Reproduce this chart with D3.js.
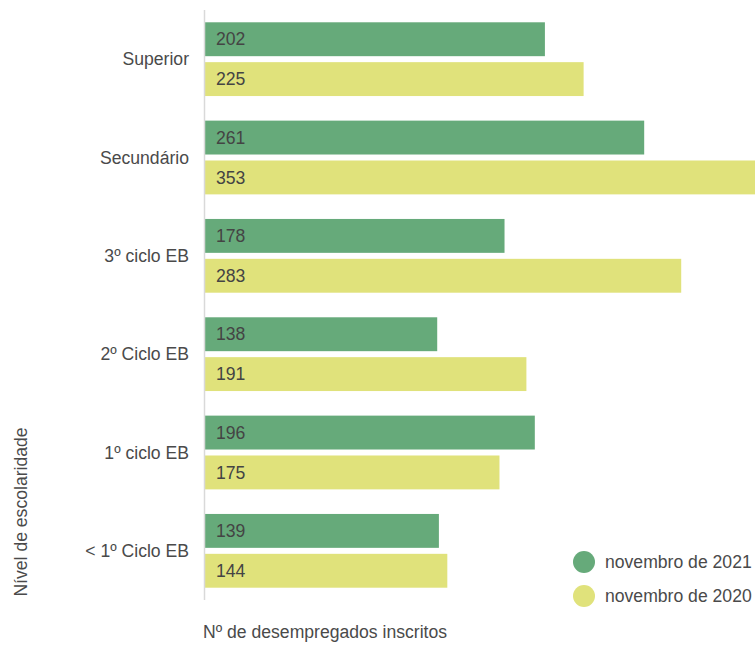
<!DOCTYPE html>
<html>
<head>
<meta charset="utf-8">
<script src="https://cdn.jsdelivr.net/npm/d3@7"></script>
<style>
  body { margin: 0; background: #fff; }
  text { font-family: "Liberation Sans", Arial, sans-serif; }
</style>
</head>
<body>
<div id="chart"></div>
<script>
var categories = ['Superior', 'Secundário', '3º ciclo EB', '2º Ciclo EB', '1º ciclo EB', '< 1º Ciclo EB'];
var seriesNames = ['novembro de 2021', 'novembro de 2020'];
var values2021 = [202, 261, 178, 138, 196, 139];
var values2020 = [225, 353, 283, 191, 175, 144];

var green = '#66aa7a',
    yellow = '#e0e27b';
var colors = [green, yellow];

var pic_width = 755,
    pic_height = 646,
    font_size = '17.6px';

var axis_x = 205; // left edge of the bars

var svg = d3.select('#chart').append('svg')
    .attr('width', pic_width)
    .attr('height', pic_height);

// outer band per category, inner band per series
var yScale = d3.scaleBand()
    .domain(categories)
    .range([10, 600])
    .paddingInner(0.25)
    .paddingOuter(0.125);

var ySub = d3.scaleBand()
    .domain(seriesNames)
    .range([0, yScale.bandwidth()])
    .paddingInner(0.15);

var xScale = d3.scaleLinear().domain([0, 353]).range([0, 594]);

var rows = categories.map(function(c, i) {
    return { cat: c, vals: [values2021[i], values2020[i]] };
});

var groups = svg.append('g').selectAll('g').data(rows)
    .enter().append('g')
    .attr('transform', function(d) { return 'translate(' + axis_x + ',' + yScale(d.cat) + ')'; });

groups.selectAll('rect').data(function(d) { return d.vals; })
    .enter().append('rect')
    .attr('x', 0)
    .attr('y', function(d, i) { return ySub(seriesNames[i]); })
    .attr('width', function(d) { return xScale(d); })
    .attr('height', ySub.bandwidth())
    .style('fill', function(d, i) { return colors[i]; });

groups.selectAll('text.val').data(function(d) { return d.vals; })
    .enter().append('text')
    .attr('class', 'val')
    .attr('x', 11)
    .attr('y', function(d, i) { return ySub(seriesNames[i]) + ySub.bandwidth() / 2; })
    .attr('dy', '0.35em')
    .style('font-size', font_size)
    .style('fill', '#444')
    .text(function(d) { return d; });

// vertical axis line
svg.append('line')
    .attr('x1', axis_x - 0.5).attr('x2', axis_x - 0.5)
    .attr('y1', 10).attr('y2', 600)
    .style('stroke', '#d9d9d9')
    .style('stroke-width', 1.5);

// category labels
svg.append('g').selectAll('text').data(categories)
    .enter().append('text')
    .attr('x', 189)
    .attr('y', function(d) { return yScale(d) + yScale.bandwidth() / 2; })
    .attr('dy', '0.35em')
    .attr('text-anchor', 'end')
    .style('font-size', font_size)
    .style('fill', '#4a4a4a')
    .text(function(d) { return d; });

// axis titles
svg.append('text')
    .attr('x', 203)
    .attr('y', 638)
    .style('font-size', font_size)
    .style('fill', '#4a4a4a')
    .text('Nº de desempregados inscritos');

svg.append('text')
    .attr('transform', 'translate(27,512) rotate(-90)')
    .attr('text-anchor', 'middle')
    .style('font-size', font_size)
    .style('fill', '#4a4a4a')
    .text('Nível de escolaridade');

// legend
var legend = svg.append('g').selectAll('g').data(seriesNames)
    .enter().append('g')
    .attr('transform', function(d, i) { return 'translate(584,' + (562 + i * 34) + ')'; });

legend.append('circle')
    .attr('r', 11)
    .style('fill', function(d, i) { return colors[i]; });

legend.append('text')
    .attr('x', 21)
    .attr('dy', '0.35em')
    .style('font-size', font_size)
    .style('fill', '#4a4a4a')
    .text(function(d) { return d; });
</script>
</body>
</html>
